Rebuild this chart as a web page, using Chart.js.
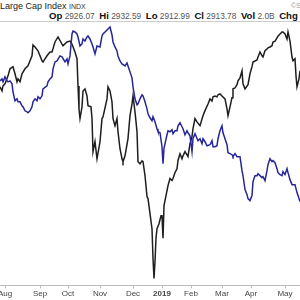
<!DOCTYPE html>
<html>
<head>
<meta charset="utf-8">
<script src="https://cdn.jsdelivr.net/npm/chart.js@4.4.0/dist/chart.umd.min.js"></script>
<style>
  html, body { margin: 0; padding: 0; background: #fff; }
  body { width: 300px; height: 300px; position: relative; overflow: hidden; font-family: "Liberation Sans", Arial, sans-serif; }
  #title { position: absolute; left: 0; top: 1px; font-size: 9px; color: #222; white-space: nowrap; }
  #title small { font-size: 7px; color: #333; }
  #copy { position: absolute; left: 291px; top: 2px; font-size: 7px; color: #999; white-space: nowrap; }
  #quote { position: absolute; left: 49px; top: 10px; font-size: 8.3px; color: #555; white-space: nowrap; }
  #quote b { color: #111; font-size: 9.6px; }
  #rule { position: absolute; left: 0; top: 21px; width: 300px; height: 1px; background: #ccc; }
  #chart { position: absolute; left: 0; top: 0; }
</style>
</head>
<body>
<div id="title">Large Cap Index <small>INDX</small></div>
<div id="copy">©StockCharts.com</div>
<div id="quote"><b>Op</b> 2926.07 &nbsp;<b>Hi</b> 2932.59 &nbsp;<b>Lo</b> 2912.99 &nbsp;<b>Cl</b> 2913.78 &nbsp;<b>Vol</b> 2.0B &nbsp;<b>Chg</b></div>
<div id="rule"></div>
<canvas id="chart" width="300" height="300"></canvas>
<script>
// x position of each month label along the time axis
const monthPos = [5, 40, 68, 100, 133, 162, 191, 222, 251, 285];
const monthLabels = ["Aug", "Sep", "Oct", "Nov", "Dec", "2019", "Feb", "Mar", "Apr", "May"];

// large cap index (black)
const spxT = [0, 2, 3, 5, 8, 10, 13, 15, 17, 18, 20, 22, 25, 28, 32, 33, 35, 38, 42, 43,
  47, 50, 52, 55, 58, 62, 63, 67, 70, 72, 75, 77, 78, 79, 80, 82, 83, 85, 87, 88,
  91, 92, 93, 95, 97, 100, 102, 103, 107, 108, 110, 112, 113, 115, 117, 118, 120, 122, 123, 125,
  128, 130, 132, 133, 135, 137, 138, 140, 142, 143, 145, 147, 148, 150, 152, 153, 154, 155, 156, 157,
  159, 161, 162, 163, 164, 167, 168, 170, 172, 173, 175, 177, 178, 180, 182, 183, 185, 188, 190, 192,
  193, 195, 197, 200, 203, 205, 208, 210, 212, 213, 215, 217, 218, 220, 222, 225, 227, 228, 230, 232,
  233, 235, 237, 238, 240, 242, 243, 245, 248, 250, 252, 253, 257, 258, 260, 262, 263, 265, 267, 268,
  270, 272, 273, 275, 277, 278, 280, 282, 283, 285, 287, 288, 290, 292, 293, 295, 296, 297, 299, 300];
const spxClose = [2811, 2801, 2813, 2818, 2837, 2854, 2859, 2842, 2823, 2830, 2823, 2842, 2854, 2861, 2885, 2911, 2906, 2897, 2873, 2870,
  2885, 2894, 2894, 2918, 2930, 2913, 2909, 2918, 2920, 2913, 2894, 2878, 2813, 2758, 2735, 2763, 2801, 2806, 2789, 2766,
  2763, 2735, 2656, 2680, 2639, 2680, 2735, 2739, 2782, 2811, 2801, 2775, 2735, 2718, 2735, 2704, 2663, 2639, 2632, 2646,
  2687, 2742, 2770, 2789, 2751, 2704, 2632, 2627, 2634, 2632, 2599, 2549, 2544, 2508, 2472, 2401, 2353, 2394, 2449, 2472,
  2484, 2503, 2503, 2449, 2527, 2563, 2575, 2592, 2587, 2592, 2606, 2615, 2635, 2651, 2639, 2646, 2656, 2644, 2675, 2692,
  2711, 2735, 2727, 2718, 2742, 2754, 2770, 2782, 2777, 2787, 2789, 2787, 2792, 2794, 2789, 2782, 2758, 2742, 2763, 2785,
  2806, 2808, 2816, 2825, 2832, 2849, 2818, 2806, 2816, 2842, 2859, 2870, 2875, 2882, 2894, 2885, 2882, 2897, 2901, 2904,
  2906, 2909, 2918, 2920, 2928, 2932, 2937, 2942, 2942, 2937, 2925, 2942, 2920, 2882, 2873, 2878, 2837, 2811, 2830, 2849];

// 10-year yield (blue)
const tnxT = [0, 2, 3, 5, 7, 8, 10, 12, 13, 15, 17, 18, 20, 22, 23, 25, 27, 28, 30, 32,
  33, 35, 37, 38, 40, 42, 43, 47, 48, 50, 52, 53, 55, 57, 60, 62, 65, 67, 68, 70,
  72, 73, 75, 77, 78, 80, 82, 83, 85, 87, 88, 90, 92, 93, 95, 97, 100, 102, 103, 105,
  108, 110, 112, 113, 115, 117, 118, 120, 122, 125, 127, 128, 130, 132, 133, 135, 137, 138, 140, 142,
  143, 145, 147, 148, 150, 152, 153, 155, 157, 158, 160, 162, 163, 164, 165, 167, 168, 170, 172, 173,
  175, 177, 178, 180, 182, 183, 185, 187, 188, 190, 192, 193, 195, 198, 200, 202, 203, 205, 207, 210,
  212, 213, 215, 217, 218, 220, 222, 223, 225, 227, 228, 230, 232, 233, 235, 237, 240, 242, 243, 245,
  247, 248, 250, 252, 253, 255, 257, 258, 260, 262, 263, 265, 267, 268, 270, 272, 273, 275, 277, 278,
  280, 282, 283, 285, 287, 288, 290, 292, 295, 297, 298, 300];
const tnxYield = [2.97, 2.98, 2.965, 2.99, 2.97, 2.965, 2.97, 2.955, 2.915, 2.87, 2.88, 2.865, 2.865, 2.845, 2.84, 2.82, 2.815, 2.81, 2.82, 2.84,
  2.865, 2.88, 2.87, 2.89, 2.88, 2.895, 2.93, 2.945, 2.965, 2.98, 2.99, 3.03, 3.065, 3.07, 3.095, 3.09, 3.065, 3.08, 3.055, 3.095,
  3.205, 3.22, 3.215, 3.205, 3.19, 3.145, 3.155, 3.18, 3.17, 3.19, 3.195, 3.18, 3.155, 3.14, 3.105, 3.145, 3.14, 3.195, 3.205, 3.215,
  3.23, 3.24, 3.2, 3.165, 3.14, 3.12, 3.095, 3.07, 3.055, 3.045, 3.06, 3.045, 3.015, 2.985, 2.94, 2.88, 2.85, 2.855, 2.88, 2.9,
  2.895, 2.865, 2.83, 2.805, 2.785, 2.77, 2.79, 2.765, 2.73, 2.715, 2.71, 2.64, 2.555, 2.63, 2.655, 2.7, 2.72, 2.715, 2.725, 2.705,
  2.72, 2.72, 2.745, 2.76, 2.74, 2.73, 2.7, 2.72, 2.71, 2.695, 2.615, 2.68, 2.705, 2.67, 2.68, 2.655, 2.68, 2.665, 2.645, 2.65,
  2.67, 2.64, 2.64, 2.645, 2.68, 2.72, 2.745, 2.71, 2.68, 2.65, 2.61, 2.605, 2.6, 2.59, 2.605, 2.59, 2.59, 2.52, 2.495, 2.425,
  2.4, 2.38, 2.37, 2.395, 2.465, 2.495, 2.495, 2.505, 2.495, 2.485, 2.49, 2.47, 2.52, 2.55, 2.58, 2.565, 2.57, 2.56, 2.53, 2.51,
  2.5, 2.495, 2.515, 2.5, 2.53, 2.51, 2.475, 2.45, 2.45, 2.41, 2.395, 2.365];

const spxPoints = spxT.map((t, i) => ({ x: t, y: spxClose[i] }));
const tnxPoints = tnxT.map((t, i) => ({ x: t, y: tnxYield[i] }));

new Chart(document.getElementById("chart"), {
  type: "line",
  data: {
    datasets: [
      {
        data: tnxPoints,
        yAxisID: "y1",
        borderColor: "#26269a",
        borderWidth: 1.5,
        pointRadius: 0,
        tension: 0,
      },
      {
        data: spxPoints,
        yAxisID: "y",
        borderColor: "#1e1e1e",
        borderWidth: 1.5,
        pointRadius: 0,
        tension: 0,
      },
    ],
  },
  options: {
    responsive: false,
    animation: false,
    layout: { padding: { top: 22, left: 0, right: 0, bottom: 0 } },
    plugins: { legend: { display: false }, tooltip: { enabled: false } },
    scales: {
      x: {
        type: "linear",
        min: 0,
        max: 300,
        afterBuildTicks: (scale) => {
          scale.ticks = monthPos.map((v) => ({ value: v }));
        },
        afterFit: (scale) => {
          scale.paddingLeft = 0;
          scale.paddingRight = 0;
        },
        ticks: {
          autoSkip: false,
          maxRotation: 0,
          padding: 1,
          color: "#444",
          font: (ctx) => ({
            family: "'Liberation Sans', Arial, sans-serif",
            size: 8,
            weight: monthLabels[ctx.index] === "2019" ? "bold" : "normal",
          }),
          callback: (v, i) => monthLabels[i],
        },
        grid: { drawOnChartArea: false, drawTicks: true, tickLength: 3, color: "#bbb" },
        border: { color: "#bbb" },
      },
      y: { display: false, min: 2336.6, max: 2965.7 },
      y1: { display: false, min: 1.945, max: 3.265 },
    },
  },
});
</script>
</body>
</html>
